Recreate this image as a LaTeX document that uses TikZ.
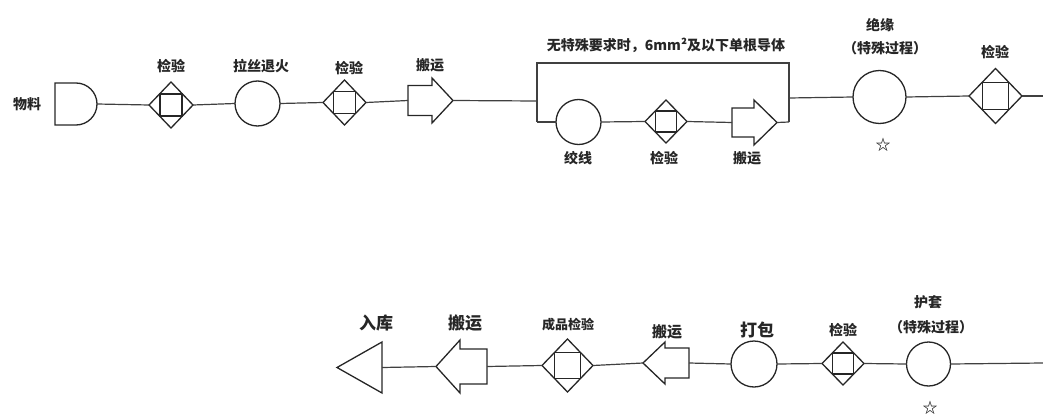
\documentclass[tikz,border=0pt]{standalone}
\usepackage{fontspec}
\usetikzlibrary{shapes.geometric}
\newfontfamily\cjk{Noto Sans CJK SC}
\tikzset{
  shp/.style={draw=black!85, line width=1.3pt, line join=miter},
  con/.style={draw=black!75, line width=1.2pt},
  box/.style={inner sep=0pt, outer sep=0pt},
  dia/.style={diamond, shp, inner sep=0pt, outer sep=0pt},
  circ/.style={circle, shp, inner sep=0pt, outer sep=0pt},
  lab/.style={font=\cjk\bfseries\fontsize{#1}{#1}\selectfont, text=black!85, inner sep=0pt},
  lab/.default=14,
  star/.style={font=\cjk\bfseries\fontsize{15}{15}\selectfont, text=black!85, inner sep=0pt}
}
\newcommand\rarr[7]{%
  \node[box, minimum width=#4, minimum height={2*#6}] (#1) at (#2,#3) {};
  \draw[shp] (#1.west) ++(0,#7) -- ++({#4-#5},0) -- ++(0,{#6-#7}) -- (#1.east)
    -- ++({-#5},{-#6}) -- ++(0,{#6-#7}) -- ++({#5-#4},0) -- cycle;
}
\newcommand\larr[7]{%
  \node[box, minimum width=#4, minimum height={2*#6}] (#1) at (#2,#3) {};
  \draw[shp] (#1.east) ++(0,#7) -- ++({#5-#4},0) -- ++(0,{#6-#7}) -- (#1.west)
    -- ++({#5},{-#6}) -- ++(0,{#6-#7}) -- ++({#4-#5},0) -- cycle;
}
\newcommand\insp[5]{%
  \node[dia, minimum width=#4, minimum height=#5] (#1) at (#2,#3) {};
  \node[shp, box, minimum size={#4/2}] (#1s) at (#1) {};
}
\begin{document}
\begin{tikzpicture}[x=1pt, y=-1pt]
\useasboundingbox (0,0) rectangle (1043,417);

% ---------- top row ----------
\node[lab] (t0) at (27,104) {物料};
\node[box, minimum width=42, minimum height=42] (m) at (76,104) {};
\draw[shp] (m.south) -- (m.south west) -- (m.north west) -- (m.north)
  arc[start angle=90, end angle=-90, radius=21pt];

\insp{d1}{171}{105}{44}{46}
\node[lab] (t1) at (171,66) {检验};

\node[circ, minimum size=45] (c1) at (257.5,103.5) {};
\node[lab] (t2) at (261,66) {拉丝退火};

\insp{d2}{344.5}{102.5}{43}{45}
\node[lab] (t3) at (349,68) {检验};

\rarr{a1}{430.5}{100.5}{45}{21}{22.5}{15}
\node[lab] (t4) at (430,65) {搬运};

\coordinate (lpIn) at (537,101);
\coordinate (lpBL) at (537,122);
\coordinate (lpTR) at (789,63);
\coordinate (lpBR) at (789,122);
\coordinate (lpOut) at (789,98);
\node[lab] (t5) at (666,45) {无特殊要求时，6mm²及以下单根导体};

\node[circ, minimum size=45] (c2) at (578.5,122) {};
\node[lab] (t6) at (578,158) {绞线};
\insp{d3}{666}{121.5}{42}{43}
\node[lab] (t7) at (664,158) {检验};
\rarr{a2}{754.5}{122.5}{45}{23}{22.5}{14.5}
\node[lab] (t8) at (747,158) {搬运};

\node[circ, minimum size=53] (c3) at (879.5,97) {};
\node[lab] (t9) at (880,25) {绝缘};
\node[lab] (t10) at (885,48) {（特殊过程）};
\node[star] (s1) at (883,145) {☆};

\insp{d4}{995.5}{96}{53}{55}
\node[lab] (t11) at (995,52) {检验};
\coordinate (rEnd1) at (1043,96);

\draw[con] (m.east) -- (d1.west);
\draw[con] (d1.east) -- (c1.west);
\draw[con] (c1.east) -- (d2.west);
\draw[con] (d2.east) -- (a1.west);
\draw[con] (a1.east) -- (lpIn);
\draw[con] (lpBL) |- (lpTR) -- (lpBR);
\draw[con] (lpBL) -- (c2.west);
\draw[con] (c2.east) -- (d3.west);
\draw[con] (d3.east) -- (a2.west);
\draw[con] (a2.east) -- (lpBR);
\draw[con] (lpOut) -- (c3.west);
\draw[con] (c3.east) -- (d4.west);
\draw[con] (d4.east) -- (rEnd1);

% ---------- bottom row ----------
\coordinate (rEnd2) at (1043,363);
\node[circ, minimum size=44] (c5) at (928.5,364) {};
\node[lab] (b1) at (928,302) {护套};
\node[lab] (b2) at (931,327) {（特殊过程）};
\node[star] (s2) at (930,408) {☆};

\insp{d5}{843}{363.5}{42}{43}
\node[lab] (b3) at (843,330) {检验};

\node[circ, minimum size=46] (c4) at (754,364) {};
\node[lab=17] (b4) at (757,330) {打包};

\larr{a3}{666}{363}{46}{22}{21}{15}
\node[lab=15] (b5) at (667,332) {搬运};

\insp{d6}{567.5}{365.5}{51}{53}
\node[lab=13] (b6) at (568,325) {成品检验};

\larr{a4}{461.5}{366.5}{51}{24}{26.5}{17.5}
\node[lab=17] (b7) at (465,323) {搬运};

\node[box, minimum width=45, minimum height=51] (rk) at (359.5,367.5) {};
\draw[shp] (rk.west) -- (rk.north east) -- (rk.south east) -- cycle;
\node[lab=17] (b8) at (376,323) {入库};

\draw[con] (rEnd2) -- (c5.east);
\draw[con] (c5.west) -- (d5.east);
\draw[con] (d5.west) -- (c4.east);
\draw[con] (c4.west) -- (a3.east);
\draw[con] (a3.west) -- (d6.east);
\draw[con] (d6.west) -- (a4.east);
\draw[con] (a4.west) -- (rk.east);
\end{tikzpicture}
\end{document}
